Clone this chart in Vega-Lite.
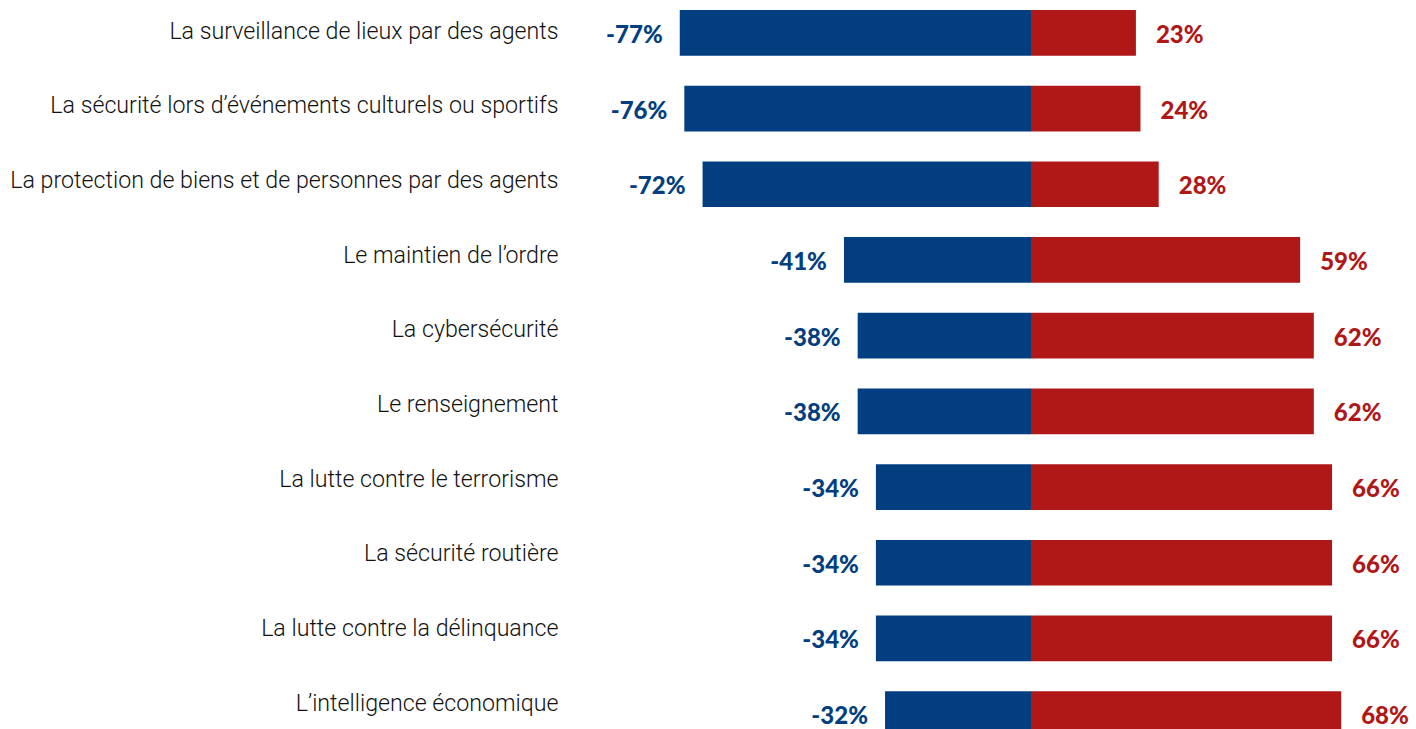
{
  "$schema": "https://vega.github.io/schema/vega-lite/v6.json",
  "autosize": {"type": "none"},
  "padding": {"left": 568, "top": 0, "right": 0, "bottom": 0},
  "width": 848,
  "height": 729,
  "background": "white",
  "config": {"view": {"stroke": null}},
  "data": {"values": [
    {"cat": "La surveillance de lieux par des agents", "side": "neg", "value": -77, "lbl": "-77%"},
    {"cat": "La surveillance de lieux par des agents", "side": "pos", "value": 23, "lbl": "23%"},
    {"cat": "La sécurité lors d’événements culturels ou sportifs", "side": "neg", "value": -76, "lbl": "-76%"},
    {"cat": "La sécurité lors d’événements culturels ou sportifs", "side": "pos", "value": 24, "lbl": "24%"},
    {"cat": "La protection de biens et de personnes par des agents", "side": "neg", "value": -72, "lbl": "-72%"},
    {"cat": "La protection de biens et de personnes par des agents", "side": "pos", "value": 28, "lbl": "28%"},
    {"cat": "Le maintien de l’ordre", "side": "neg", "value": -41, "lbl": "-41%"},
    {"cat": "Le maintien de l’ordre", "side": "pos", "value": 59, "lbl": "59%"},
    {"cat": "La cybersécurité", "side": "neg", "value": -38, "lbl": "-38%"},
    {"cat": "La cybersécurité", "side": "pos", "value": 62, "lbl": "62%"},
    {"cat": "Le renseignement", "side": "neg", "value": -38, "lbl": "-38%"},
    {"cat": "Le renseignement", "side": "pos", "value": 62, "lbl": "62%"},
    {"cat": "La lutte contre le terrorisme", "side": "neg", "value": -34, "lbl": "-34%"},
    {"cat": "La lutte contre le terrorisme", "side": "pos", "value": 66, "lbl": "66%"},
    {"cat": "La sécurité routière", "side": "neg", "value": -34, "lbl": "-34%"},
    {"cat": "La sécurité routière", "side": "pos", "value": 66, "lbl": "66%"},
    {"cat": "La lutte contre la délinquance", "side": "neg", "value": -34, "lbl": "-34%"},
    {"cat": "La lutte contre la délinquance", "side": "pos", "value": 66, "lbl": "66%"},
    {"cat": "L’intelligence économique", "side": "neg", "value": -32, "lbl": "-32%"},
    {"cat": "L’intelligence économique", "side": "pos", "value": 68, "lbl": "68%"}
  ]},
  "layer": [
    {
      "encoding": {
        "y": {"field": "cat", "type": "nominal", "sort": null,
              "scale": {"type": "band", "range": [0, 747], "paddingInner": 0.396, "paddingOuter": 0.132},
              "axis": null},
        "x": {"field": "value", "type": "quantitative",
              "scale": {"domain": [-101.5, 84.4], "nice": false, "zero": false},
              "axis": null}
      },
      "layer": [
        {
          "mark": {"type": "bar", "clip": true},
          "encoding": {
            "color": {"field": "side", "type": "nominal",
                      "scale": {"domain": ["neg", "pos"], "range": ["#033f80", "#b01818"]},
                      "legend": null}
          }
        },
        {
          "transform": [{"filter": "datum.side == 'neg'"}],
          "mark": {"type": "text", "align": "right", "baseline": "middle", "dx": -17, "dy": 3,
                   "font": "Lato", "fontWeight": 900, "fontSize": 24, "color": "#033f80"},
          "encoding": {"text": {"field": "lbl"}}
        },
        {
          "transform": [{"filter": "datum.side == 'pos'"}],
          "mark": {"type": "text", "align": "left", "baseline": "middle", "dx": 20, "dy": 3,
                   "font": "Lato", "fontWeight": 900, "fontSize": 24, "color": "#b01818"},
          "encoding": {"text": {"field": "lbl"}}
        }
      ]
    },
    {
      "transform": [{"filter": "datum.side == 'neg'"}],
      "mark": {"type": "point", "opacity": 0},
      "encoding": {
        "y": {"field": "cat", "type": "nominal", "sort": null,
              "scale": {"type": "point", "range": [38, 710], "padding": 0},
              "axis": {"orient": "left", "title": null, "ticks": false, "domain": false,
                       "labelAlign": "right", "labelBaseline": "alphabetic", "labelPadding": 10,
                       "labelFont": "Roboto", "labelFontWeight": 300, "labelFontSize": 23.2,
                       "labelColor": "#111111", "labelLimit": 0}},
        "x": {"field": "value", "type": "quantitative",
              "scale": {"domain": [-101.5, 84.4], "nice": false, "zero": false},
              "axis": null}
      }
    }
  ],
  "resolve": {"scale": {"y": "independent"}}
}
